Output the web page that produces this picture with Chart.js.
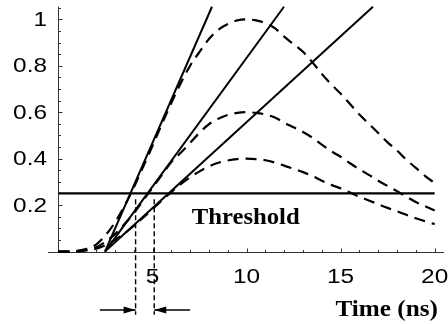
<!DOCTYPE html>
<html>
<head>
<meta charset="utf-8">
<title>Pulse shapes and threshold crossing</title>
<script src="https://cdn.jsdelivr.net/npm/chart.js@4.4.1/dist/chart.umd.min.js"></script>
<style>
    html, body { margin: 0; padding: 0; background: #fff; }
    #wrap { width: 448px; height: 324px; }
</style>
</head>
<body>
<div id="wrap"><canvas id="chart-pulses" width="448" height="324"></canvas></div>
<script>
// =========================================================================
// 1. DATA
// =========================================================================
var times = [0, 0.5, 1, 1.5, 2, 2.5, 3, 3.5, 4, 4.5, 5, 5.5, 6, 6.5, 7, 7.5, 8, 8.5, 9, 9.5,
             10, 10.5, 11, 11.5, 12, 12.5, 13, 13.5, 14, 14.5, 15, 15.5, 16, 16.5, 17, 17.5,
             18, 18.5, 19, 19.5, 20];

// three pulses, same shape, peak at 10 ns
var pulseHigh = [0, 0, 0.003, 0.012, 0.03, 0.07, 0.125, 0.195, 0.275, 0.365, 0.455, 0.55, 0.64,
                 0.725, 0.80, 0.86, 0.915, 0.955, 0.98, 0.995, 1.0, 0.995, 0.983, 0.962, 0.925,
                 0.893, 0.86, 0.815, 0.765, 0.72, 0.68, 0.635, 0.59, 0.55, 0.51, 0.47, 0.435,
                 0.395, 0.36, 0.325, 0.295];
var pulseMid = [0, 0, 0.002, 0.007, 0.018, 0.042, 0.075, 0.117, 0.165, 0.22, 0.275, 0.33, 0.385,
                0.425, 0.468, 0.512, 0.548, 0.572, 0.588, 0.597, 0.6, 0.597, 0.59, 0.577, 0.555,
                0.535, 0.515, 0.49, 0.46, 0.432, 0.408, 0.38, 0.354, 0.33, 0.305, 0.282, 0.26,
                0.236, 0.213, 0.195, 0.177];
var pulseLow = [0, 0, 0.001, 0.005, 0.012, 0.028, 0.05, 0.078, 0.11, 0.146, 0.183, 0.22, 0.256,
                0.29, 0.32, 0.345, 0.366, 0.382, 0.392, 0.398, 0.4, 0.398, 0.393, 0.383, 0.37,
                0.356, 0.342, 0.325, 0.305, 0.287, 0.272, 0.254, 0.236, 0.22, 0.204, 0.188, 0.173,
                0.158, 0.143, 0.13, 0.118];

// straight rise lines: common foot, time where each one leaves the top of the plot
var riseStart = 2.47;
var riseTopTimes = [8.16, 11.99, 16.72];
var plotTop = 1.054;

var threshold = 0.25;
var thresholdSpan = [0, 20];

// walk marks (dashed verticals) and their arrows
var walkTimes = [4.1, 5.09];
var walkFrom = 0.225;
var walkTo = -0.272;
var arrowLevel = -0.252;
var arrowTails = [2.2, 7.0];

// axes
var xRange = [-0.55, 20.5];
var xTickLabels = [5, 10, 15, 20];
var xMinorStep = 1;
var yTickLabels = [0.2, 0.4, 0.6, 0.8, 1];
var yMinorStep = 0.05;


// =========================================================================
// 2. HELPERS
// =========================================================================
function toPoints(xs, ys) {
    return xs.map(function (x, i) { return { x: x, y: ys[i] }; });
}

function dashedPulse(values) {
    return {
        data: toPoints(times, values),
        borderColor: '#000',
        borderWidth: 2.2,
        borderDash: [11, 7],
        cubicInterpolationMode: 'monotone',
        pointRadius: 0,
        fill: false
    };
}

function solidSegment(pts, width) {
    return {
        data: pts,
        borderColor: '#000',
        borderWidth: width,
        pointRadius: 0,
        fill: false
    };
}

// the tick font is a wide Helvetica, so stretch the glyphs a bit
function wideText(ctx, text, x, y, stretch) {
    ctx.save();
    ctx.translate(x, y);
    ctx.scale(stretch, 1);
    ctx.fillText(text, 0, 0);
    ctx.restore();
}


// =========================================================================
// 3. AXES, LABELS AND ARROWHEADS (drawn on the chart scales)
// =========================================================================
var mathAxes = {
    id: 'mathAxes',
    beforeDatasetsDraw: function (chart) {
        var ctx = chart.ctx;
        var sx = chart.scales.x, sy = chart.scales.y;
        var x0 = Math.round(sx.getPixelForValue(0)) + 0.5;
        var y0 = Math.round(sy.getPixelForValue(0)) + 0.5;

        ctx.save();
        ctx.strokeStyle = '#333';
        ctx.lineWidth = 1;
        ctx.beginPath();
        ctx.moveTo(sx.getPixelForValue(xRange[0]), y0);
        ctx.lineTo(sx.getPixelForValue(xRange[1]), y0);
        ctx.moveTo(x0, y0);
        ctx.lineTo(x0, sy.getPixelForValue(plotTop));

        // x ticks point up, every ns, longer on the labelled ones
        for (var t = xMinorStep; t <= 20; t += xMinorStep) {
            var px = Math.round(sx.getPixelForValue(t)) + 0.5;
            var len = xTickLabels.indexOf(t) >= 0 ? 4 : 2.5;
            ctx.moveTo(px, y0);
            ctx.lineTo(px, y0 - len);
        }
        // y ticks point right
        for (var k = 1; k * yMinorStep <= plotTop; k++) {
            var v = Math.round(k * yMinorStep * 100) / 100;
            var py = Math.round(sy.getPixelForValue(v)) + 0.5;
            var major = yTickLabels.indexOf(v) >= 0;
            ctx.moveTo(x0, py);
            ctx.lineTo(x0 + (major ? 4 : 2.5), py);
        }
        ctx.stroke();

        ctx.fillStyle = '#000';
        ctx.font = '20px "Liberation Sans", Arial, sans-serif';
        ctx.textAlign = 'center';
        ctx.textBaseline = 'middle';
        xTickLabels.forEach(function (t) {
            wideText(ctx, String(t), sx.getPixelForValue(t), y0 + 25, 1.22);
        });
        ctx.textAlign = 'right';
        yTickLabels.forEach(function (v) {
            wideText(ctx, String(v), 47, sy.getPixelForValue(v) + 1, 1.22);
        });
        ctx.restore();
    },
    afterDatasetsDraw: function (chart) {
        var ctx = chart.ctx;
        var sx = chart.scales.x, sy = chart.scales.y;
        var ay = sy.getPixelForValue(arrowLevel);

        ctx.save();
        ctx.fillStyle = '#000';
        walkTimes.forEach(function (t, i) {
            var tip = sx.getPixelForValue(t);
            var dir = arrowTails[i] < t ? 1 : -1;
            ctx.beginPath();
            ctx.moveTo(tip, ay);
            ctx.lineTo(tip - dir * 12, ay - 3.5);
            ctx.lineTo(tip - dir * 12, ay + 3.5);
            ctx.closePath();
            ctx.fill();
        });

        ctx.font = 'bold 24px "Liberation Serif", "Times New Roman", serif';
        ctx.textBaseline = 'alphabetic';
        ctx.textAlign = 'left';
        wideText(ctx, 'Threshold', sx.getPixelForValue(7.08), sy.getPixelForValue(0.118), 1.03);
        ctx.textAlign = 'right';
        wideText(ctx, 'Time (ns)', sx.getPixelForValue(20.17), sy.getPixelForValue(-0.277), 1.05);
        ctx.restore();
    }
};


// =========================================================================
// 4. CHART
// =========================================================================
function buildChart() {
    var datasets = [
        dashedPulse(pulseHigh),
        dashedPulse(pulseMid),
        dashedPulse(pulseLow)
    ];

    riseTopTimes.forEach(function (tTop) {
        datasets.push(solidSegment([{ x: riseStart, y: 0 }, { x: tTop, y: plotTop }], 2));
    });

    datasets.push(solidSegment([{ x: thresholdSpan[0], y: threshold }, { x: thresholdSpan[1], y: threshold }], 2.2));

    walkTimes.forEach(function (t, i) {
        var mark = solidSegment([{ x: t, y: walkFrom }, { x: t, y: walkTo }], 1.4);
        mark.borderDash = [5, 3];
        datasets.push(mark);
        datasets.push(solidSegment([{ x: arrowTails[i], y: arrowLevel }, { x: t, y: arrowLevel }], 1.4));
    });

    var ctx = document.getElementById('chart-pulses').getContext('2d');
    return new Chart(ctx, {
        type: 'line',
        data: { datasets: datasets },
        options: {
            responsive: false,
            animation: false,
            devicePixelRatio: 1,
            layout: { padding: 0 },
            plugins: { legend: { display: false }, tooltip: { enabled: false } },
            scales: {
                x: { type: 'linear', min: -3.11, max: 20.71, display: false },
                y: { type: 'linear', min: -0.312, max: 1.083, display: false }
            }
        },
        plugins: [mathAxes]
    });
}

buildChart();
</script>
</body>
</html>
